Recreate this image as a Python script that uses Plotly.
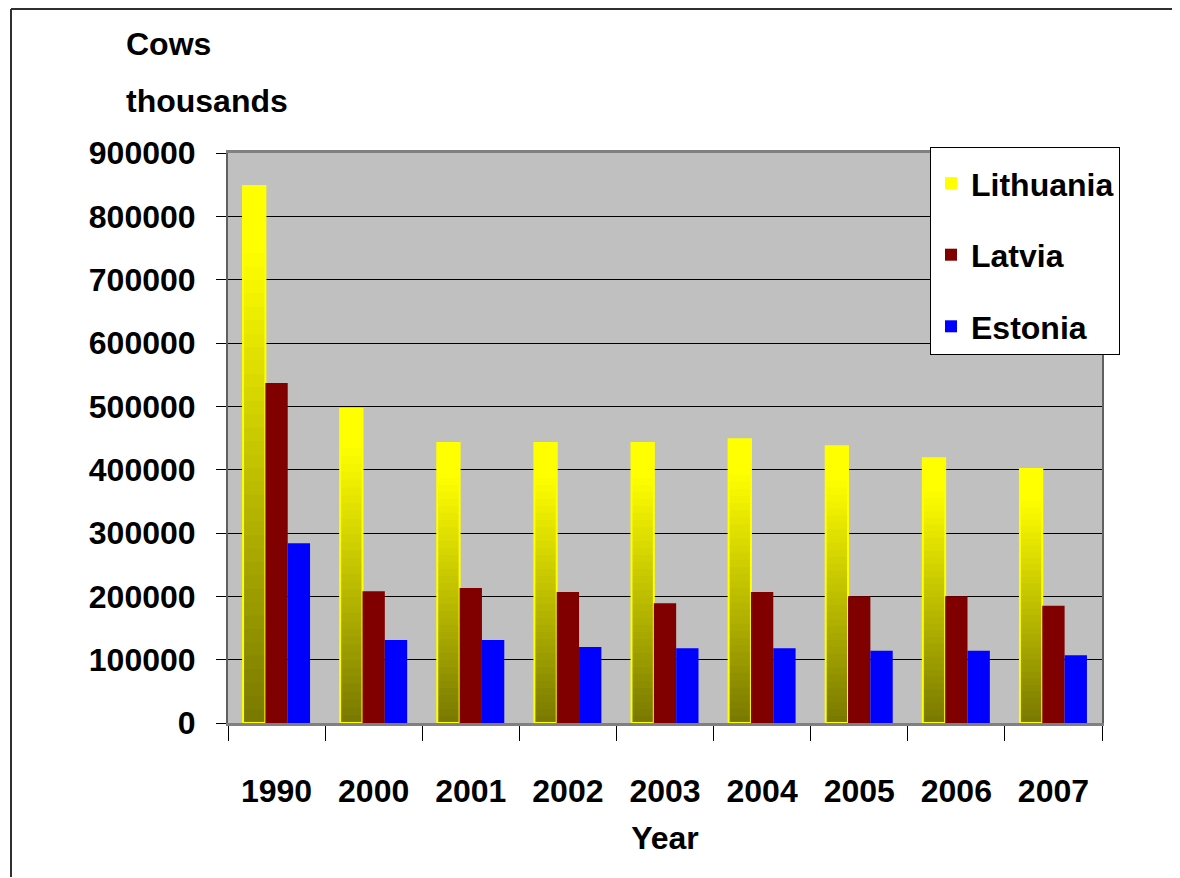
import plotly.graph_objects as go

# Data
years = ["1990", "2000", "2001", "2002", "2003", "2004", "2005", "2006", "2007"]
lithuania = [848000, 496000, 442000, 442000, 442000, 448000, 437000, 418000, 401000]
latvia = [537000, 208000, 213000, 207000, 189000, 207000, 200000, 200000, 185000]
estonia = [284000, 131000, 131000, 120000, 118000, 118000, 114000, 114000, 107000]
y_ticks = [0, 100000, 200000, 300000, 400000, 500000, 600000, 700000, 800000, 900000]

FONT = "Liberation Sans, Arial, sans-serif"
FONT_SIZE = 32
COLOR_LATVIA = "#800000"
COLOR_ESTONIA = "#0000FF"
COLOR_PLOT_BG = "#C0C0C0"
GRAD_BOTTOM = (0x76, 0x76, 0x00)
GRAD_TOP = (0xFF, 0xFF, 0x00)
N_SEG = 40

# the page body adds an 8px margin, so the figure is laid out 8px in
OFF = 8
W, H = 1180 - OFF, 878 - OFF
# plot area in screen pixels: x 228..1102, y 153..723
L, T = 228 - OFF, 153 - OFF
R, B = W - (1102 - OFF), H - (723 - OFF)


def grad_color(t):
    c = [round(a + (b - a) * t) for a, b in zip(GRAD_BOTTOM, GRAD_TOP)]
    return "rgb({},{},{})".format(*c)


fig = go.Figure()

# Lithuania: olive->yellow gradient, drawn as nested bars from tallest to shortest
for k in range(N_SEG):
    frac = (N_SEG - k) / N_SEG
    fig.add_trace(go.Bar(
        x=years,
        y=[v * frac for v in lithuania],
        offsetgroup="lt",
        marker=dict(color=grad_color(min(1.0, frac * 1.12)), line=dict(width=0)),
        name="Lithuania",
        legendgroup="lt",
        showlegend=(k == 0),
        hoverinfo="skip",
    ))

# yellow outline on the Lithuania bars
fig.add_trace(go.Bar(
    x=years, y=lithuania, offsetgroup="lt",
    marker=dict(color="rgba(0,0,0,0)", line=dict(color="#FFFF00", width=2)),
    name="Lithuania", legendgroup="lt", showlegend=False,
))

fig.add_trace(go.Bar(
    x=years, y=latvia, offsetgroup="lv", name="Latvia", legendgroup="lv",
    marker=dict(color=COLOR_LATVIA, line=dict(width=0)),
))
fig.add_trace(go.Bar(
    x=years, y=estonia, offsetgroup="ee", name="Estonia", legendgroup="ee",
    marker=dict(color=COLOR_ESTONIA, line=dict(width=0)),
))

pw, ph = W - L - R, H - T - B


def px(x):
    """screen x pixel -> paper coordinate"""
    return (x - OFF - L) / pw


def py(y):
    """screen y pixel -> paper coordinate"""
    return (H - B - (y - OFF)) / ph


# y axis title, two lines
for text, ytop in [("Cows", 24), ("thousands", 81)]:
    fig.add_annotation(
        text=text, xref="paper", yref="paper", x=px(124), y=py(ytop),
        xanchor="left", yanchor="top", showarrow=False,
        font=dict(family=FONT, size=FONT_SIZE, color="black", weight="bold"),
    )

# outer frame (only its left and top edges fall inside the picture)
frame = dict(color="#303030", width=2)
fig.add_shape(type="line", xref="paper", yref="paper",
              x0=px(11), y0=py(9), x1=px(1179), y1=py(9), line=frame, layer="below")
fig.add_shape(type="line", xref="paper", yref="paper",
              x0=px(11), y0=py(9), x1=px(11), y1=py(877), line=frame, layer="below")

fig.update_layout(
    width=W, height=H,
    margin=dict(l=L, r=R, t=T, b=B),
    paper_bgcolor="white",
    plot_bgcolor=COLOR_PLOT_BG,
    barmode="group",
    bargap=0.31,
    bargroupgap=0,
    font=dict(family=FONT, size=FONT_SIZE, color="black", weight="bold"),
    showlegend=True,
    legend=dict(
        x=px(930), y=py(147), xanchor="left", yanchor="top",
        bgcolor="white", bordercolor="black", borderwidth=1,
        tracegroupgap=27, traceorder="grouped",
        title=dict(text=" ", font=dict(size=6)),
        font=dict(family=FONT, size=FONT_SIZE, color="black", weight="bold"),
    ),
    xaxis=dict(
        type="category",
        title=dict(text="Year", standoff=19,
                   font=dict(family=FONT, size=FONT_SIZE, color="black", weight="bold")),
        tickson="boundaries", ticks="outside", ticklen=15, tickwidth=1, tickcolor="black",
        ticklabelstandoff=38,
        showline=True, linecolor="#808080", linewidth=3, mirror=True,
        showgrid=False,
    ),
    yaxis=dict(
        range=[0, 900000],
        tickvals=y_ticks, tickformat="d",
        ticks="outside", ticklen=10, tickwidth=1, tickcolor="black",
        ticklabelstandoff=14,
        showgrid=True, gridcolor="black", gridwidth=1,
        zeroline=False,
        showline=True, linecolor="#606060", linewidth=2, mirror=True,
    ),
)

fig.write_html("out.html")
